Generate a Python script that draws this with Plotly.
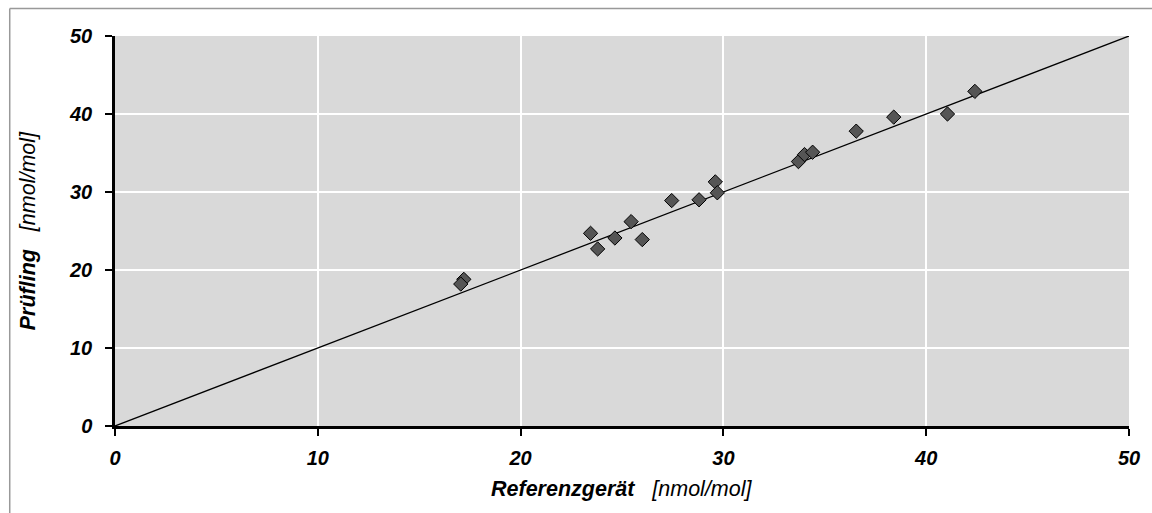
import plotly.graph_objects as go

referenz = [17.2, 17.05, 23.45, 23.8, 24.65, 25.45, 26.0, 27.45, 28.8, 29.6, 29.7,
            33.7, 34.0, 34.4, 36.55, 38.4, 41.05, 42.4]
pruefling = [18.8, 18.2, 24.7, 22.7, 24.1, 26.2, 23.9, 28.9, 29.0, 31.3, 29.9,
             33.9, 34.8, 35.1, 37.8, 39.6, 40.0, 42.9]
line_x = [0, 50]
line_y = [0, 50]
ticks = [0, 10, 20, 30, 40, 50]

fig = go.Figure()
fig.add_trace(go.Scatter(x=line_x, y=line_y, mode="lines",
                         line=dict(color="black", width=1.3), hoverinfo="skip"))
fig.add_trace(go.Scatter(x=referenz, y=pruefling, mode="markers",
                         marker=dict(symbol="diamond", size=11, color="#555555",
                                     line=dict(color="black", width=1))))

tickfont = dict(family="Liberation Sans, Arial", size=20, color="black")
fig.update_layout(
    width=1152, height=513,
    margin=dict(l=115, r=16, t=36, b=87),
    paper_bgcolor="white", plot_bgcolor="#d9d9d9",
    showlegend=False,
    font=dict(family="Liberation Sans, Arial", color="black"),
)
fig.update_xaxes(range=[0, 50], tickvals=ticks,
                 ticktext=[f"<b><i>{t}</i></b>" for t in ticks],
                 tickfont=tickfont, showgrid=True, gridcolor="white", gridwidth=1.5,
                 zeroline=False, showline=True, linecolor="black", linewidth=2.5,
                 ticks="outside", ticklen=7, tickwidth=2, tickcolor="black",
                 ticklabelstandoff=5)
fig.update_yaxes(range=[0, 50], tickvals=ticks,
                 ticktext=[f"<b><i>{t}</i></b>" for t in ticks],
                 tickfont=tickfont, showgrid=True, gridcolor="white", gridwidth=1.5,
                 zeroline=False, showline=True, linecolor="black", linewidth=2.5,
                 ticks="outside", ticklen=7, tickwidth=2, tickcolor="black",
                 ticklabelstandoff=9)

fig.add_annotation(xref="paper", yref="paper", x=0.5, y=-0.162,
                   text="<b><i>Referenzgerät</i></b>\u00a0\u00a0\u00a0<i>[nmol/mol]</i>",
                   showarrow=False, font=dict(size=21.5, family="Liberation Sans, Arial"),
                   xanchor="center", yanchor="middle")
fig.add_annotation(xref="paper", yref="paper", x=-0.0855, y=0.5,
                   text="<b><i>Prüfling</i></b>\u00a0\u00a0\u00a0<i>[nmol/mol]</i>",
                   showarrow=False, textangle=-90,
                   font=dict(size=21.5, family="Liberation Sans, Arial"),
                   xanchor="center", yanchor="middle")

# outer chart frame (top and left edges visible)
frame_left = (9 - 115) / 1021
frame_top = 1 + (36 - 8.5) / 390
fig.add_shape(type="line", xref="paper", yref="paper",
              x0=frame_left, x1=1.3, y0=frame_top, y1=frame_top,
              line=dict(color="#999999", width=1.5), layer="below")
fig.add_shape(type="line", xref="paper", yref="paper",
              x0=frame_left, x1=frame_left, y0=frame_top, y1=-0.5,
              line=dict(color="#999999", width=1.5), layer="below")

fig.write_html("out.html")
